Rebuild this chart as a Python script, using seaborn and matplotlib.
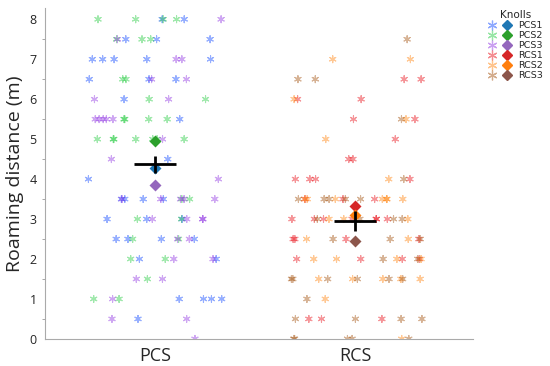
import numpy as np
import pandas as pd
import matplotlib.pyplot as plt
import seaborn as sns
from matplotlib.lines import Line2D
from matplotlib.legend_handler import HandlerTuple

# ---- data ----
sites = ["PCS", "RCS"]
knolls = ["PCS1", "PCS2", "PCS3", "RCS1", "RCS2", "RCS3"]

pcs1 = [8, 8, 7.5, 7.5, 7.5, 7, 7, 7, 7, 7, 6.5, 6.5, 6.5, 6, 5.5, 4.5, 4,
        3.5, 3.5, 3.5, 3.5, 3, 3, 3, 2.5, 2.5, 2.5, 2.5, 2, 2, 1, 1, 1, 1, 0.5]
pcs2 = [8, 8, 8, 8, 7.5, 7.5, 7.5, 6.5, 6.5, 6, 6, 5.5, 5.5, 5.5, 5.5,
        5, 5, 5, 5, 5, 5, 5, 3.5, 3.5, 3, 3, 2.5, 2.5, 2, 2, 1.5, 1, 1]
pcs3 = [8, 7.5, 7, 7, 6.5, 6.5, 6, 6, 5.5, 5.5, 5.5, 5.5, 5.5, 5, 4.5, 4,
        3.5, 3.5, 3.5, 3.5, 3.5, 3, 3, 3, 3, 2.5, 2.5, 2, 2, 1.5, 1.5, 1,
        0.5, 0.5, 0]
rcs1 = [6.5, 6.5, 6, 6, 5.5, 5.5, 5, 4.5, 4.5, 4, 4, 4, 4, 3.5, 3.5, 3.5,
        3, 3, 3, 3, 3, 3, 3, 2.5, 2.5, 2.5, 2.5, 2, 2, 2, 2, 0.5, 0.5, 0.5]
rcs2 = [7, 7, 6, 5.5, 5, 4, 3.5, 3.5, 3.5, 3.5, 3.5, 3.5, 3.5, 3, 3, 3,
        2.5, 2.5, 2, 2, 2, 2, 1.5, 1.5, 1.5, 1.5, 1.5, 1, 0]
rcs3 = [7.5, 6.5, 6.5, 5.5, 4, 3.5, 3.5, 3.5, 3.5, 3.5, 3, 3, 3, 3,
        2.5, 2.5, 2.5, 2, 2, 1.5, 1.5, 1.5, 1.5, 1.5, 1.5, 1,
        0.5, 0.5, 0.5, 0.5, 0, 0, 0, 0, 0]

knoll_means = [4.28, 4.95, 3.86, 3.32, 3.10, 2.46]
site_means = [4.37, 2.95]
site_err = [0.21, 0.24]

point_colors = ["#023eff", "#1ac938", "#8b2be2", "#e8000b", "#ff7c00", "#9f4800"]
mean_colors = ["#1f77b4", "#2ca02c", "#9467bd", "#d62728", "#ff7f0e", "#8c564b"]

all_vals = [pcs1, pcs2, pcs3, rcs1, rcs2, rcs3]
rows = []
for k, vals in zip(knolls, all_vals):
    for v in vals:
        rows.append({"site": k[:3], "knoll": k, "dist": v})
df = pd.DataFrame(rows)
mean_df = pd.DataFrame({"site": [k[:3] for k in knolls], "knoll": knolls, "dist": knoll_means})

# ---- plot ----
sns.set_style("white")
plt.rcParams["font.family"] = ["Open Sans", "DejaVu Sans"]
np.random.seed(3)

fig = plt.figure(figsize=(5.5, 3.66), dpi=100)
ax = fig.add_axes([0.082, 0.074, 0.778, 0.904])

star = (6, 2, 0)
sns.stripplot(data=df, x="site", y="dist", hue="knoll", order=sites, hue_order=knolls,
              palette=point_colors, marker=star, size=5, linewidth=0.8, alpha=0.42,
              jitter=0.35, legend=False, ax=ax, zorder=2)

ax.errorbar(x=[0, 1], y=site_means, yerr=site_err, fmt="_", color="black",
            markersize=30, mew=2, elinewidth=2, capsize=0, zorder=4)

sns.pointplot(data=mean_df, x="site", y="dist", hue="knoll", order=sites, hue_order=knolls,
              palette=mean_colors, markers="D", linestyles="none", dodge=False,
              errorbar=None, markersize=4, legend=False, ax=ax)

ax.set_xlim(-0.55, 1.59)
ax.set_ylim(0, 8.28)
ax.set_yticks(range(0, 9))
ax.set_yticks(np.arange(0.5, 8.5, 1), minor=True)
ax.tick_params(axis="y", which="major", length=4, color="#999999", labelsize=9, pad=2)
ax.tick_params(axis="y", which="minor", left=True, length=2, color="#999999")
ax.tick_params(axis="x", length=0, labelsize=13, pad=6)
ax.set_xlabel("")
ax.set_ylabel("Roaming distance (m)", fontsize=14, labelpad=4)
for s in ["top", "right"]:
    ax.spines[s].set_visible(False)
for s in ["left", "bottom"]:
    ax.spines[s].set_color("#aaaaaa")
    ax.spines[s].set_linewidth(0.8)

handles = []
for pc, mc in zip(point_colors, mean_colors):
    h1 = Line2D([], [], marker=star, color=pc, alpha=0.45, linestyle="none", markersize=7, mew=0.9)
    h2 = Line2D([], [], marker="D", color=mc, linestyle="none", markersize=5.5)
    handles.append((h1, h2))
leg = fig.legend(handles, knolls, title="Knolls", loc="upper right", bbox_to_anchor=(1.0, 0.99),
                 frameon=False, prop={"family": "DejaVu Sans", "size": 6.8},
                 handlelength=2.3, handleheight=0.5, labelspacing=0.1,
                 handletextpad=0.9, borderaxespad=0.3,
                 handler_map={tuple: HandlerTuple(ndivide=None, pad=0.9)})
leg.get_title().set_fontsize(7.5)
leg.get_title().set_fontfamily("DejaVu Sans")

fig.savefig("out.png", dpi=100)
